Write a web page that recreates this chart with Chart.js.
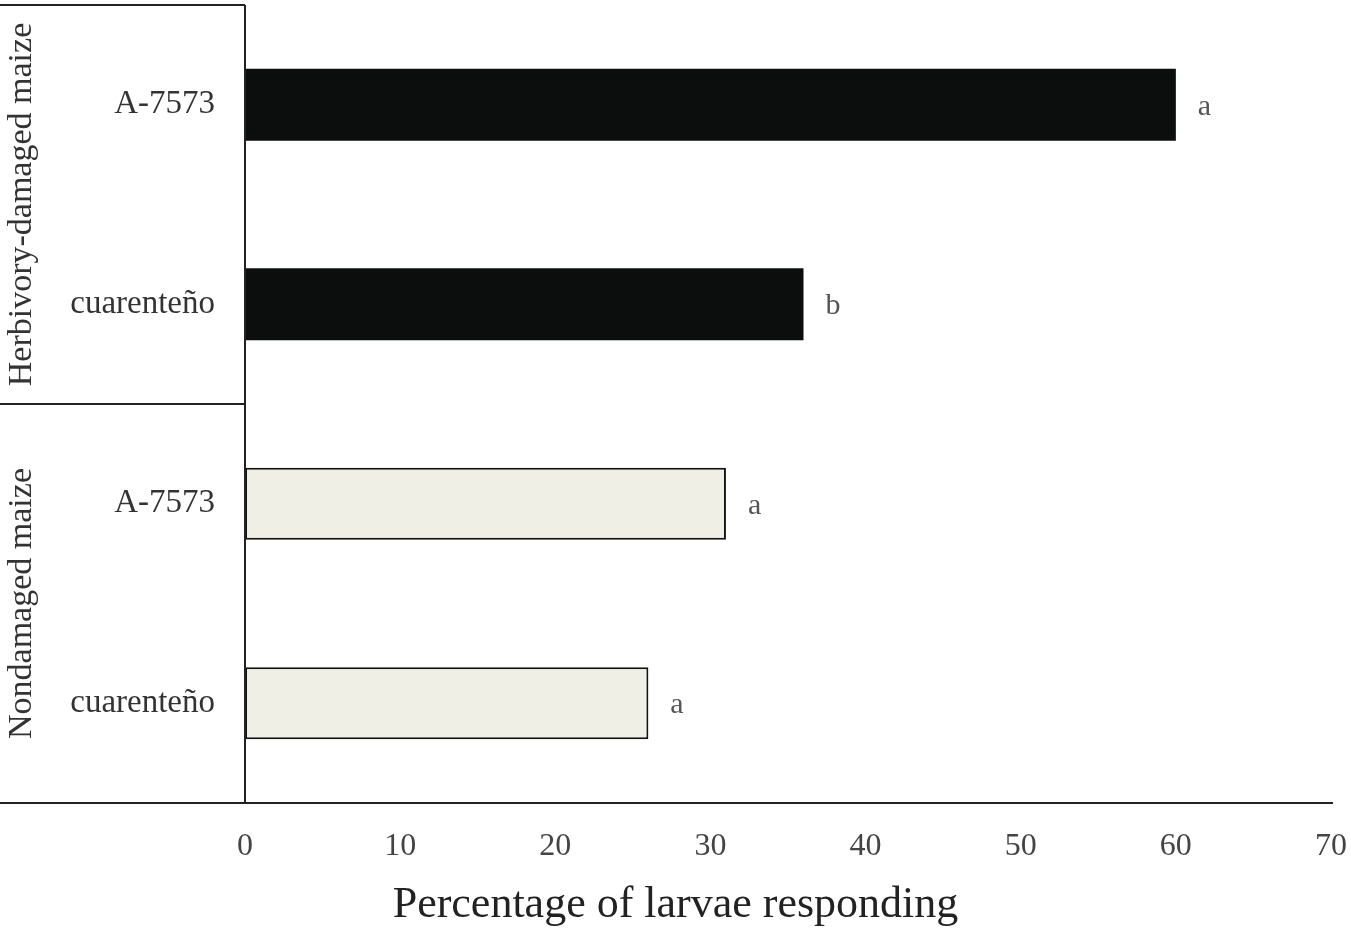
<!DOCTYPE html>
<html>
<head>
<meta charset="utf-8">
<script src="https://cdn.jsdelivr.net/npm/chart.js@4"></script>
<style>
  body { margin: 0; background: #fff; }
  #wrap { width: 1351px; height: 936px; position: relative; }
</style>
</head>
<body>
<div id="wrap"><canvas id="myChart"></canvas></div>
<script>
const cultivars = ["A-7573", "cuarenteño", "A-7573", "cuarenteño"];
const larvaePct = [60, 36, 31, 26];
const sigLetters = ["a", "b", "a", "a"];
const groupNames = ["Herbivory-damaged maize", "Nondamaged maize"];
const groupSize = 2;
const xTicks = [0, 10, 20, 30, 40, 50, 60, 70];
const xTitle = "Percentage of larvae responding";

const serif = "'Liberation Serif', 'DejaVu Serif', serif";

// draws group boxes, axis lines, significance letters and the x title
const decorations = {
  id: "decorations",
  afterDraw(chart) {
    const ctx = chart.ctx;
    const area = chart.chartArea;
    const meta = chart.getDatasetMeta(0);
    const step = (area.bottom - area.top) / cultivars.length;

    ctx.save();
    ctx.strokeStyle = "#222";
    ctx.lineWidth = 2;

    // y axis line
    ctx.beginPath();
    ctx.moveTo(area.left, area.top);
    ctx.lineTo(area.left, area.bottom);
    ctx.stroke();

    // x axis line, running under the label column too
    ctx.beginPath();
    ctx.moveTo(0, area.bottom);
    ctx.lineTo(area.right + 2, area.bottom);
    ctx.stroke();

    // group separators and rotated group names
    groupNames.forEach(function (name, g) {
      const top = area.top + g * groupSize * step;
      const bottom = top + groupSize * step;
      if (g === 0) {
        ctx.beginPath();
        ctx.moveTo(0, top);
        ctx.lineTo(area.left, top);
        ctx.stroke();
      }
      if (g < groupNames.length - 1) {
        ctx.beginPath();
        ctx.moveTo(0, bottom);
        ctx.lineTo(area.left, bottom);
        ctx.stroke();
      }
      ctx.save();
      ctx.translate(22, (top + bottom) / 2);
      ctx.rotate(-Math.PI / 2);
      ctx.fillStyle = "#333";
      ctx.font = "34px " + serif;
      ctx.textAlign = "center";
      ctx.textBaseline = "middle";
      ctx.fillText(name, 0, 0);
      ctx.restore();
    });

    // significance letters at bar ends
    ctx.fillStyle = "#555";
    ctx.font = "30px " + serif;
    ctx.textAlign = "left";
    ctx.textBaseline = "middle";
    meta.data.forEach(function (bar, i) {
      ctx.fillText(sigLetters[i], bar.x + 22, bar.y + 2);
    });

    // x axis title centred on the whole figure
    ctx.fillStyle = "#222";
    ctx.font = "44px " + serif;
    ctx.textAlign = "center";
    ctx.textBaseline = "middle";
    ctx.fillText(xTitle, chart.width / 2, 905);
    ctx.restore();
  },
};

const ctx = document.getElementById("myChart").getContext("2d");

new Chart(ctx, {
  type: "bar",
  data: {
    labels: cultivars,
    datasets: [
      {
        data: larvaePct,
        backgroundColor: larvaePct.map((v, i) => (i < groupSize ? "#0c0e0e" : "#efefe5")),
        borderColor: "#111",
        borderWidth: larvaePct.map((v, i) => (i < groupSize ? 0 : 2)),
        borderSkipped: false,
        barPercentage: 0.36,
        categoryPercentage: 1,
      },
    ],
  },
  options: {
    indexAxis: "y",
    responsive: true,
    maintainAspectRatio: false,
    animation: false,
    layout: { padding: { top: 5, right: 20, left: 0, bottom: 0 } },
    scales: {
      x: {
        min: 0,
        max: 70,
        afterBuildTicks: function (scale) {
          scale.ticks = xTicks.map((v) => ({ value: v }));
        },
        afterFit: function (scale) {
          scale.height = 133;
          scale.paddingLeft = 0;
          scale.paddingRight = 0;
        },
        grid: { display: false, drawTicks: false },
        border: { display: false },
        ticks: {
          padding: 24,
          color: "#444",
          font: { family: serif, size: 32 },
          maxRotation: 0,
        },
      },
      y: {
        afterFit: function (scale) {
          scale.width = 245;
          scale.paddingTop = 0;
          scale.paddingBottom = 0;
        },
        grid: { display: false, drawTicks: false },
        border: { display: false },
        ticks: {
          padding: 30,
          color: "#333",
          font: { family: serif, size: 33 },
        },
      },
    },
    plugins: {
      legend: { display: false },
      tooltip: { enabled: false },
    },
  },
  plugins: [decorations],
});
</script>
</body>
</html>
